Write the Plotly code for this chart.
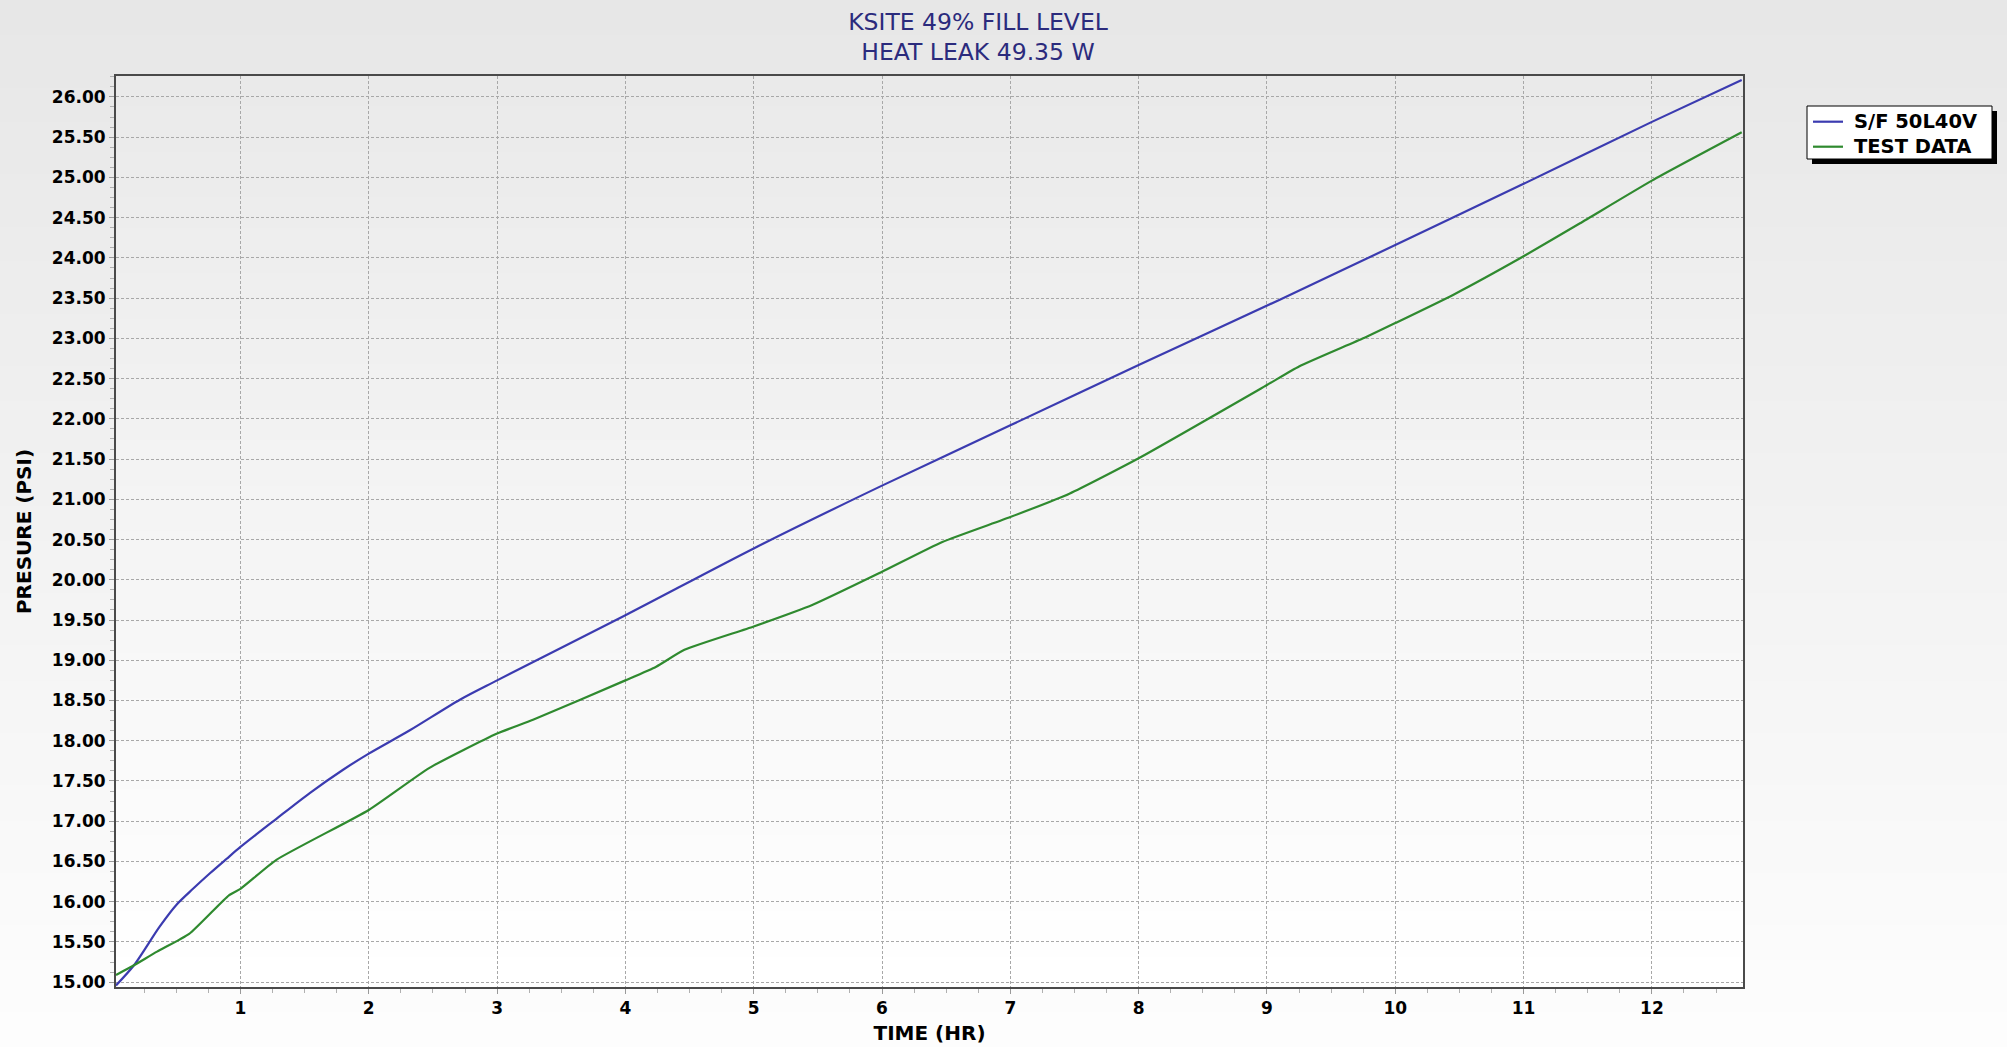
import plotly.graph_objects as go

# ---- data ----
time_sf = [0.03, 0.17, 0.37, 0.5, 0.63, 0.76, 0.89, 1.0, 1.28, 1.54, 1.8, 2.0, 2.32, 2.71,
           3.0, 4.0, 5.0, 6.0, 7.0, 8.0, 9.1, 10.0, 11.0, 12.0, 12.7]
pres_sf = [14.96, 15.21, 15.69, 15.96, 16.16, 16.35, 16.53, 16.68, 17.03, 17.35, 17.64,
           17.84, 18.13, 18.51, 18.75, 19.56, 20.39, 21.17, 21.92, 22.67, 23.48, 24.16,
           24.92, 25.69, 26.21]

time_test = [0.03, 0.17, 0.35, 0.6, 0.91, 1.0, 1.28, 2.0, 2.47, 3.0, 3.28, 4.0, 4.24, 4.46,
             5.0, 5.46, 6.0, 6.47, 7.0, 7.46, 8.0, 9.0, 9.25, 9.75, 10.0, 10.45, 11.0,
             11.44, 12.0, 12.7]
pres_test = [15.09, 15.21, 15.38, 15.60, 16.08, 16.16, 16.52, 17.14, 17.66, 18.09, 18.26,
             18.75, 18.92, 19.13, 19.42, 19.69, 20.10, 20.47, 20.78, 21.07, 21.51, 22.42,
             22.65, 23.00, 23.19, 23.54, 24.02, 24.43, 24.96, 25.56]

series_names = ["S/F 50L40V", "TEST DATA"]
series_colors = ["#3b3bb0", "#2f8a2f"]
title_lines = ["KSITE 49% FILL LEVEL", "HEAT LEAK 49.35 W"]
x_title = "TIME (HR)"
y_title = "PRESURE (PSI)"
x_ticks = list(range(1, 13))
y_ticks = [15 + 0.5 * i for i in range(23)]

# ---- layout geometry ----
WIDTH, HEIGHT = 2007, 1047
ML, MR, MT, MB = 116, 264, 76, 60
PW = WIDTH - ML - MR
PH = HEIGHT - MT - MB


def px_x(p):
    return (p - ML) / PW


def px_y(p):
    return (HEIGHT - MB - p) / PH


fig = go.Figure()
fig.add_trace(go.Scatter(x=time_sf, y=pres_sf, mode="lines", name=series_names[0],
                         line=dict(color=series_colors[0], width=2.2, shape="spline",
                                   smoothing=0.8)))
fig.add_trace(go.Scatter(x=time_test, y=pres_test, mode="lines", name=series_names[1],
                         line=dict(color=series_colors[1], width=2.2, shape="spline",
                                   smoothing=0.5)))

shapes = []
# outer (paper) gradient
N = 60
for i in range(N):
    top = i * HEIGHT / N
    bot = (i + 1) * HEIGHT / N + 1
    c = int(round(231 + (253 - 231) * i / (N - 1)))
    shapes.append(dict(type="rect", xref="paper", yref="paper", x0=px_x(0), x1=px_x(WIDTH),
                       y0=px_y(bot), y1=px_y(top), fillcolor=f"rgb({c},{c},{c})",
                       line=dict(width=0), layer="below"))
# plot area gradient
for i in range(N):
    top = 1 - i / N
    bot = top - 1 / N
    c = int(round(234 + (255 - 234) * i / (N - 1)))
    shapes.append(dict(type="rect", xref="paper", yref="paper", x0=0, x1=1,
                       y0=max(bot - 0.002, 0), y1=top, fillcolor=f"rgb({c},{c},{c})",
                       line=dict(width=0), layer="below"))

# legend (box with drop shadow, line samples, labels)
lx0, ly0, lw, lh = 1807, 106, 185, 53
row_y = [121.7, 146.7]
shapes.append(dict(type="rect", xref="paper", yref="paper",
                   x0=px_x(lx0 + 5), x1=px_x(lx0 + lw + 5),
                   y0=px_y(ly0 + lh + 5), y1=px_y(ly0 + 5),
                   fillcolor="black", line=dict(width=0), layer="above"))
shapes.append(dict(type="rect", xref="paper", yref="paper",
                   x0=px_x(lx0), x1=px_x(lx0 + lw), y0=px_y(ly0 + lh), y1=px_y(ly0),
                   fillcolor="white", line=dict(color="black", width=1), layer="above"))
annotations = []
for name, color, ry in zip(series_names, series_colors, row_y):
    shapes.append(dict(type="line", xref="paper", yref="paper",
                       x0=px_x(lx0 + 6), x1=px_x(lx0 + 36), y0=px_y(ry), y1=px_y(ry),
                       line=dict(color=color, width=2.2), layer="above"))
    annotations.append(dict(text=name, xref="paper", yref="paper", x=px_x(lx0 + 45),
                            y=px_y(ry), xanchor="left", yanchor="middle", showarrow=False,
                            font=dict(family="DejaVu Sans", size=19.5, color="black",
                                      weight="bold")))

axis_common = dict(
    showline=True, linecolor="#4a4a4a", linewidth=2, mirror=True,
    showgrid=True, gridcolor="#a8a8a8", gridwidth=1, griddash="3px,2px",
    zeroline=False, ticks="outside", ticklen=5, tickcolor="#9a9a9a",
    tickfont=dict(family="DejaVu Sans", size=17, color="black", weight="bold"),
)

fig.update_layout(
    width=WIDTH, height=HEIGHT,
    margin=dict(l=ML, r=MR, t=MT, b=MB, autoexpand=False),
    paper_bgcolor="white", plot_bgcolor="rgba(0,0,0,0)",
    shapes=shapes, annotations=annotations,
    title=dict(text="<br>".join(title_lines), x=978 / WIDTH, xanchor="center",
               y=1 - 29.5 / HEIGHT, yanchor="middle", yref="container",
               font=dict(family="DejaVu Sans", size=23.5, color="#2b2b7d")),
    xaxis=dict(range=[0.03, 12.71], tickvals=x_ticks, ticktext=[str(v) for v in x_ticks],
               minor=dict(dtick=0.25, tick0=0, ticks="outside", ticklen=4,
                          tickcolor="#b0b0b0", showgrid=False),
               title=dict(text=x_title, standoff=9,
                          font=dict(family="DejaVu Sans", size=20, color="black",
                                    weight="bold")),
               **axis_common),
    yaxis=dict(range=[14.94, 26.26], tickvals=y_ticks,
               ticktext=[f"{v:.2f}" for v in y_ticks],
               minor=dict(dtick=0.125, tick0=0, ticks="outside", ticklen=4,
                          tickcolor="#b0b0b0", showgrid=False),
               title=dict(text=y_title, standoff=15,
                          font=dict(family="DejaVu Sans", size=20, color="black",
                                    weight="bold")),
               **axis_common),
    showlegend=False,
)

fig.write_html("out.html", config={"displayModeBar": False},
               post_script="document.body.style.margin='0';"
                           "document.body.style.overflow='hidden';")
